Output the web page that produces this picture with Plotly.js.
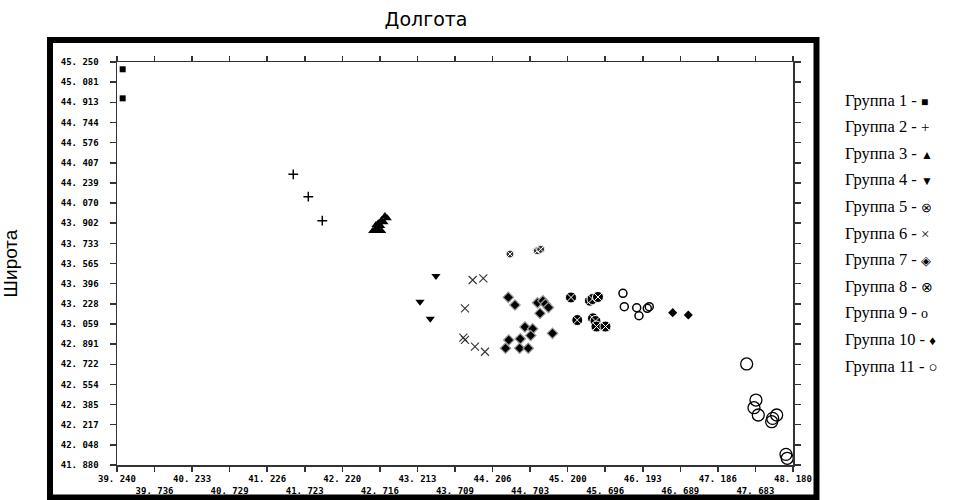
<!DOCTYPE html>
<html>
<head>
<meta charset="utf-8">
<script src="https://cdn.plot.ly/plotly-3.0.1.min.js"></script>
<style>html,body{margin:0;padding:0;background:#fff;}#chart{width:968px;height:500px;}</style>
</head>
<body>
<div id="chart"></div>
<script>
// ---- tick labels ----
const lonTicks = [39.240, 39.736, 40.233, 40.729, 41.226, 41.723, 42.220, 42.716, 43.213, 43.709, 44.206, 44.703, 45.200, 45.696, 46.193, 46.689, 47.186, 47.683, 48.180];
const lonTickLabels = ["39. 240", "39. 736", "40. 233", "40. 729", "41. 226", "41. 723", "42. 220", "42. 716", "43. 213", "43. 709", "44. 206", "44. 703", "45. 200", "45. 696", "46. 193", "46. 689", "47. 186", "47. 683", "48. 180"];
const latTicks = [41.880, 42.048, 42.217, 42.385, 42.554, 42.722, 42.891, 43.059, 43.228, 43.396, 43.565, 43.733, 43.902, 44.070, 44.239, 44.407, 44.576, 44.744, 44.913, 45.081, 45.250];
const latTickLabels = ["41. 880", "42. 048", "42. 217", "42. 385", "42. 554", "42. 722", "42. 891", "43. 059", "43. 228", "43. 396", "43. 565", "43. 733", "43. 902", "44. 070", "44. 239", "44. 407", "44. 576", "44. 744", "44. 913", "45. 081", "45. 250"];

// ---- series ----
const groupNames = ["Группа 1", "Группа 2", "Группа 3", "Группа 4", "Группа 5", "Группа 6", "Группа 7", "Группа 8", "Группа 9", "Группа 10", "Группа 11"];
const legendGlyphs = ["■", "+", "▲", "▼", "⊗", "×", "◈", "⊗", "o", "♦", "○"];

const g1Lon = [39.315, 39.315];
const g1Lat = [45.189, 44.946];
const g2Lon = [41.571, 41.770, 41.955];
const g2Lat = [44.311, 44.124, 43.923];
const g3Lon = [42.784, 42.814, 42.740, 42.771, 42.695, 42.727, 42.674, 42.652, 42.695, 42.740, 42.621, 42.665];
const g3Lat = [43.962, 43.943, 43.929, 43.909, 43.901, 43.879, 43.868, 43.845, 43.837, 43.837, 43.837, 43.887];
const g4Lon = [43.458, 43.247, 43.383];
const g4Lat = [43.460, 43.246, 43.103];
const g5Lon = [44.437, 44.798, 44.843];
const g5Lat = [43.644, 43.672, 43.684];
const g6Lon = [43.944, 44.084, 43.842, 43.820, 43.842, 43.974, 44.106];
const g6Lat = [43.427, 43.441, 43.190, 42.945, 42.926, 42.869, 42.827];
const g7Lon = [44.415, 44.503, 44.801, 44.873, 44.906, 44.946, 44.834, 44.635, 44.737, 44.711, 44.999, 44.421, 44.378, 44.573, 44.565, 44.679];
const g7Lat = [43.282, 43.218, 43.237, 43.253, 43.226, 43.197, 43.148, 43.034, 43.019, 42.963, 42.981, 42.925, 42.856, 42.935, 42.856, 42.856];
const g8Lon = [45.244, 45.327, 45.495, 45.528, 45.601, 45.535, 45.568, 45.581, 45.700];
const g8Lat = [43.281, 43.092, 43.254, 43.268, 43.285, 43.107, 43.084, 43.038, 43.038];
const g9Lon = [45.931, 45.949, 46.113, 46.143, 46.253, 46.279];
const g9Lat = [43.316, 43.204, 43.195, 43.128, 43.190, 43.204];
const g10Lon = [46.589, 46.795];
const g10Lat = [43.154, 43.134];
const g11Lon = [47.567, 47.690, 47.664, 47.721, 47.964, 47.911, 47.898, 48.087, 48.104];
const g11Lat = [42.725, 42.423, 42.359, 42.298, 42.298, 42.270, 42.242, 41.969, 41.936];

const groupLon = [g1Lon, g2Lon, g3Lon, g4Lon, g5Lon, g6Lon, g7Lon, g8Lon, g9Lon, g10Lon, g11Lon];
const groupLat = [g1Lat, g2Lat, g3Lat, g4Lat, g5Lat, g6Lat, g7Lat, g8Lat, g9Lat, g10Lat, g11Lat];

// ---- styles ----
const markerStyles = [
  {symbol: "square", size: 6, color: "#000", line: {width: 0}},
  {symbol: "cross-thin", size: 7, color: "#000", line: {width: 1.5, color: "#000"}},
  {symbol: "triangle-up", size: 8, color: "#000", line: {width: 0}},
  {symbol: "triangle-down", size: 8, color: "#000", line: {width: 0}},
  {symbol: "circle-x", size: 8, color: "#333", line: {width: 1, color: "#fff"}},
  {symbol: "x-thin", size: 8, color: "#000", line: {width: 1.1, color: "#333"}},
  {symbol: "diamond", size: 8, color: "#000", line: {width: 1.2, color: "#999"}},
  {symbol: "circle-x", size: 11, color: "#000", line: {width: 1, color: "#fff"}},
  {symbol: "circle-open", size: 8, color: "#000", line: {width: 1.5, color: "#000"}},
  {symbol: "diamond", size: 7, color: "#000", line: {width: 0}},
  {symbol: "circle-open", size: 12, color: "#000", line: {width: 1.3, color: "#000"}}
];
const glyphSizes = [12, 15, 12, 12, 13, 15, 13, 14, 14, 13, 15];

const traces = groupNames.map((name, i) => ({
  type: "scatter",
  mode: "markers",
  name: name,
  x: groupLon[i],
  y: groupLat[i],
  marker: markerStyles[i],
  showlegend: false,
  hoverinfo: "x+y+name"
}));

const legendTop = 100, legendStep = 26.6, legendLeft = 843;
const annotations = groupNames.map((name, i) => ({
  xref: "paper", yref: "paper",
  x: (legendLeft - 117) / 676,
  y: (465 - (legendTop + i * legendStep)) / 403,
  xanchor: "left", yanchor: "middle",
  text: name + " - <span style=\"font-size:" + glyphSizes[i] + "px\">" + legendGlyphs[i] + "</span>",
  showarrow: false,
  font: {family: "Liberation Serif", size: 16.5, color: "#000"}
}));

const tickFont = {family: "DejaVu Sans Mono", size: 9, color: "#000", weight: "bold"};

const layout = {
  width: 968, height: 500,
  margin: {l: 117, r: 175, t: 62, b: 35, pad: 0},
  paper_bgcolor: "#fff", plot_bgcolor: "#fff",
  showlegend: false,
  title: {
    text: "Долгота",
    x: 426 / 968, xanchor: "center", xref: "container",
    y: 1 - 19 / 500, yanchor: "middle", yref: "container",
    font: {family: "DejaVu Sans", size: 19, color: "#000"}
  },
  xaxis: {
    range: [39.240, 48.180],
    tickmode: "array",
    tickvals: lonTicks,
    ticktext: lonTickLabels.map((t, i) => (i % 2 ? "<br>" + t : t)),
    ticks: "outside", ticklen: 5, tickwidth: 1.5, tickcolor: "#333",
    showline: true, linecolor: "#333", linewidth: 1.5,
    mirror: "ticks",
    showgrid: false, zeroline: false,
    tickfont: tickFont,
    tickangle: 0,
    automargin: false
  },
  yaxis: {
    range: [41.880, 45.250],
    tickmode: "array",
    tickvals: latTicks,
    ticktext: latTickLabels,
    ticks: "outside", ticklen: 6, tickwidth: 1.5, tickcolor: "#333",
    showline: true, linecolor: "#333", linewidth: 1.5,
    mirror: "ticks",
    showgrid: false, zeroline: false,
    tickfont: tickFont,
    ticklabelstandoff: 9,
    automargin: false,
    title: {text: "Широта", standoff: 38, font: {family: "Liberation Sans", size: 19, color: "#000"}}
  },
  shapes: [{
    type: "rect", xref: "paper", yref: "paper", layer: "above",
    x0: (50 - 117) / 676, x1: (816.5 - 117) / 676,
    y0: (465 - 497.5) / 403, y1: (465 - 40) / 403,
    line: {color: "#000", width: 6}
  }],
  annotations: annotations
};

Plotly.newPlot("chart", traces, layout, {staticPlot: true, displayModeBar: false});
</script>
</body>
</html>
